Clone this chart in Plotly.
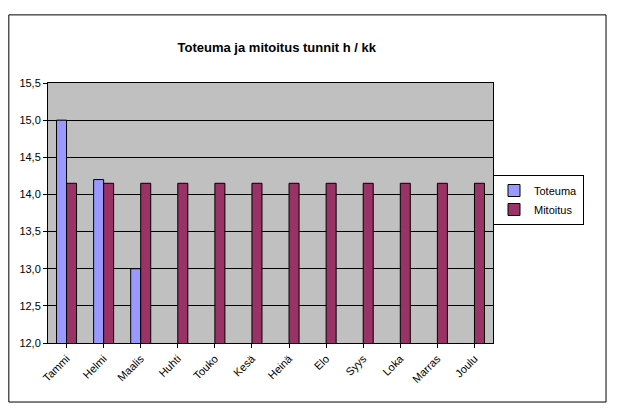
import plotly.graph_objects as go

months = ["Tammi","Helmi","Maalis","Huhti","Touko","Kesä","Heinä","Elo","Syys","Loka","Marras","Joulu"]
toteuma = [15.0, 14.2, 13.0, None, None, None, None, None, None, None, None, None]
mitoitus = [14.15]*12
yticks = [12.0,12.5,13.0,13.5,14.0,14.5,15.0,15.5]
ylabels = ["12,0","12,5","13,0","13,5","14,0","14,5","15,0","15,5"]

fig = go.Figure()
fig.add_bar(x=months, y=toteuma, name="Toteuma", marker=dict(color="#9999FF", line=dict(color="black", width=1)))
fig.add_bar(x=months, y=mitoitus, name="Mitoitus", marker=dict(color="#993366", line=dict(color="black", width=1)))
fig.update_layout(
    width=625, height=420, barmode="group", bargap=0.46, bargroupgap=0,
    paper_bgcolor="white", plot_bgcolor="#C0C0C0",
    font=dict(family="Liberation Sans, Arial", size=11, color="black"),
    title=dict(text="<b>Toteuma ja mitoitus tunnit h / kk</b>", x=0.43, xanchor="center", y=0.905, yanchor="middle", font=dict(size=13)),
    margin=dict(l=40, r=140, t=75, b=85),
    xaxis=dict(tickangle=-45, showline=True, linecolor="black", ticks="outside", ticklen=4, tickcolor="black", mirror=True),
    yaxis=dict(range=[12, 15.5], tickvals=yticks, ticktext=ylabels, showgrid=True, gridcolor="black", gridwidth=1,
               showline=True, linecolor="black", ticks="outside", ticklen=4, tickcolor="black", mirror=True),
    legend=dict(x=1.0, xanchor="left", y=0.55, yanchor="middle", bordercolor="black", borderwidth=1,
                bgcolor="white", font=dict(size=11), tracegroupgap=0, itemwidth=30),
    shapes=[dict(type="rect", xref="paper", yref="paper", x0=-0.088, x1=1.254, y0=-0.227, y1=1.262,
                 line=dict(color="black", width=1))],
)
fig.write_html("out.html")
